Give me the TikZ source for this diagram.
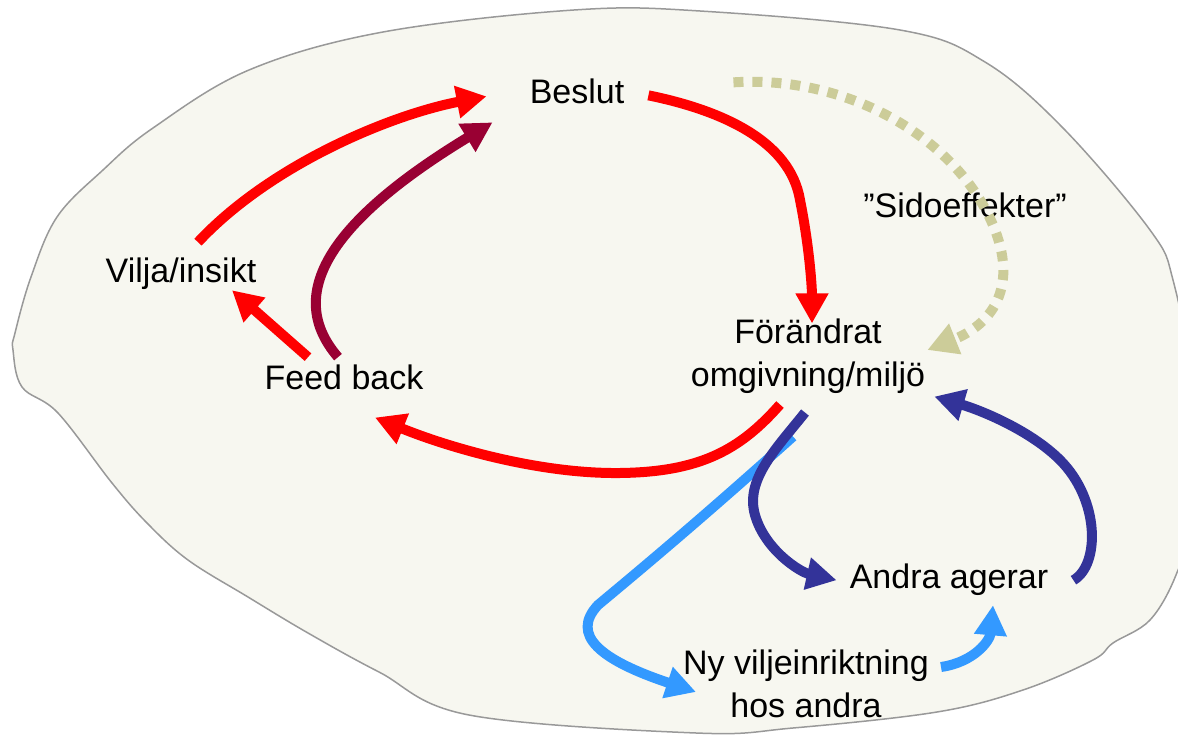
\documentclass[tikz,border=0pt]{standalone}
\usepackage{fontspec}
\setmainfont{Liberation Sans}
\usepackage{tikz}
\usetikzlibrary{calc,arrows.meta}

\definecolor{arrred}{RGB}{255,0,0}
\definecolor{arrmaroon}{RGB}{153,0,51}
\definecolor{arrnavy}{RGB}{51,51,153}
\definecolor{arrsky}{RGB}{51,153,255}
\definecolor{arrsage}{RGB}{204,204,153}
\definecolor{blobfill}{RGB}{247,247,240}
\definecolor{blobline}{RGB}{153,153,153}

\tikzset{
	arr/.style={line width=10pt, -{Triangle[length=30pt,width=31pt]}},
	redarr/.style={arr, draw=arrred},
	maroonarr/.style={arr, draw=arrmaroon},
	navyarr/.style={arr, draw=arrnavy},
	skyarr/.style={arr, draw=arrsky},
	sagearr/.style={arr, draw=arrsage, dash pattern=on 10pt off 9pt},
	lbl/.style={font=\fontsize{34}{43}\selectfont, inner sep=0pt},
}

\begin{document}
\begin{tikzpicture}[x=1pt,y=-1pt]
			%%%%% FRAME %%%%%
			
			\useasboundingbox (0,0) rectangle (1178,735);
			
			\draw[line width=1.5pt, draw=blobline, fill=blobfill] plot[smooth cycle, tension=0.6] coordinates {
				(574,10) (700,11) (900,30) (985,62) (1063,128) (1150,230) (1173,280)
				(1190,380) (1190,520) (1176,575) (1150,620) (1113,643) (1093,660) (1023,690) (937,712)
				(793,728) (696,733) (469,715) (379,672) (308,633) (248,597) (188,560)
				(147,523) (112,483) (58,413) (22,387) (13,350) (15,333) (31,277)
				(57,217) (103,170) (153,128) (249,70) (383,32)};
			
			%%%%% TEXTS %%%%%
			
			\node[lbl, anchor=base] (beslut) at (577,104) {Beslut};
			\node[lbl, anchor=base] (vilja) at (181,283) {Vilja/insikt};
			\node[lbl, anchor=base] (feedback) at (344,389) {Feed back};
			\node[lbl, align=center] (forandrat) at (808,356) {Förändrat\\omgivning/miljö};
			\node[lbl, anchor=base] (sido) at (965,218) {”Sidoeffekter”};
			\node[lbl, anchor=base] (andra) at (949,588) {Andra agerar};
			\node[lbl, align=center] (ny) at (806,684) {Ny viljeinriktning\\hos andra};
			
			%%%%% ARROWS %%%%%
			
			\draw[redarr] ($(vilja.north)+(17,-16)$) .. controls (270,165) and (390,115) .. ($(beslut.west)+(-43,4.5)$);
			\draw[maroonarr] ($(feedback.north)+(-6,-7)$) .. controls (280,290) and (340,215) .. ($(beslut.west)+(-37,30.5)$);
			\draw[redarr] ($(feedback.north)+(-36,-7)$) -- ($(vilja.south)+(51,0)$);
			
			\draw[redarr] ($(beslut.east)+(24,3.5)$) .. controls (720,110) and (790,140) .. (800,200)
				.. controls (810,250) and (812,290) .. ($(forandrat.north)+(4,5)$);
			\draw[sagearr] ($(beslut.east)+(109,-9.5)$) .. controls (850,75) and (960,140) .. (995,230)
				.. controls (1018,290) and (990,325) .. ($(forandrat.east)+(2,-6)$);
			
			\draw[redarr] ($(forandrat.south)+(-28,11)$) .. controls (740,450) and (700,472) .. (620,473)
				.. controls (540,474) and (450,448) .. ($(feedback.south)+(31,28)$);
			
			\draw[skyarr] ($(forandrat.south)+(-15,43)$) .. controls (700,520) and (640,570) .. (598,605)
				.. controls (570,635) and (600,660) .. ($(ny.west)+(13,8)$);
			\draw[navyarr] ($(forandrat.south)+(-3,19)$) .. controls (775,450) and (745,480) .. (755,515)
				.. controls (765,550) and (800,572) .. ($(andra.west)+(-13,1)$);
			\draw[skyarr] ($(ny.east)+(12,-17)$) .. controls (975,662) and (990,640) .. ($(andra.south)+(44,10)$);
			\draw[navyarr] ($(andra.east)+(25,1)$) .. controls (1100,565) and (1100,500) .. (1060,460)
				.. controls (1030,430) and (980,410) .. ($(forandrat.south east)+(9,3)$);
			
			%%%%% END %%%%%
\end{tikzpicture}
\end{document}
